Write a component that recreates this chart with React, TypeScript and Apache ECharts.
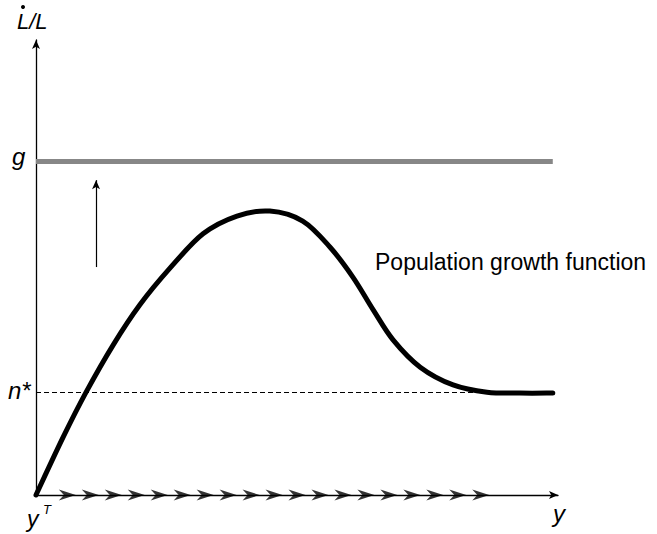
import React, { useEffect, useRef } from "react";
import * as echarts from "echarts";

// Population growth function (income per capita on x, growth rate of population on y)
const curveX = [0, 0.52, 0.96, 1.48, 1.99, 2.57, 3.2, 3.85, 4.48, 5.11, 5.63, 6.07, 6.46, 6.84, 7.36, 7.99, 8.64, 9.27, 9.9];
const curveY = [0, 1.27, 2.26, 3.3, 4.18, 4.99, 5.74, 6.13, 6.24, 6.02, 5.45, 4.79, 4.07, 3.41, 2.81, 2.42, 2.26, 2.24, 2.24];

const gLevel = 7.34;
const nStar = 2.26;
const lineEndX = 9.9;

// arrow showing upward shift
const arrowX = 1.15;
const arrowFrom = 5.01;
const arrowTo = 6.92;

// chevrons along the y axis (direction of movement)
const chevronX = [0.6, 1.04, 1.48, 1.92, 2.36, 2.8, 3.24, 3.68, 4.12, 4.56, 5.0, 5.44, 5.88, 6.32, 6.76, 7.2, 7.64, 8.08, 8.52];

const FONT = "'Liberation Sans', Arial, Helvetica, sans-serif";

export default function App() {
  const ref = useRef<HTMLDivElement>(null);
  useEffect(() => {
    const chart = echarts.init(ref.current!, undefined, { renderer: "svg" });
    const curve = curveX.map((x, i) => [x, curveY[i]]);
    const chev = chevronX.map((x) => [x, 0]);
    const txt = (text: string, x: number, y: number, size: number, italic = true, align = "left") => ({
      type: "text",
      x,
      y,
      style: {
        text,
        font: `${italic ? "italic " : ""}${size}px ${FONT}`,
        fill: "#000",
        textAlign: align,
        textVerticalAlign: "middle",
        verticalAlign: "middle",
      },
      silent: true,
    });
    chart.setOption({
      animation: false,
      backgroundColor: "#fff",
      grid: { left: 36, right: 99, top: 40, bottom: 39, containLabel: false },
      xAxis: {
        type: "value",
        min: 0,
        max: 10,
        axisLine: {
          show: true,
          onZero: false,
          symbol: ["none", "arrow"],
          symbolSize: [6, 9],
          lineStyle: { color: "#000", width: 1.3 },
        },
        axisTick: { show: false },
        axisLabel: { show: false },
        splitLine: { show: false },
      },
      yAxis: {
        type: "value",
        min: 0,
        max: 10,
        axisLine: {
          show: true,
          onZero: false,
          symbol: ["none", "arrow"],
          symbolSize: [6, 9],
          lineStyle: { color: "#000", width: 1.3 },
        },
        axisTick: { show: false },
        axisLabel: { show: false },
        splitLine: { show: false },
      },
      series: [
        {
          type: "line",
          data: [],
          silent: true,
          markLine: {
            silent: true,
            animation: false,
            label: { show: false },
            symbol: ["none", "none"],
            data: [
              [
                { coord: [0, gLevel], lineStyle: { color: "#878787", width: 5, type: "solid" } },
                { coord: [lineEndX, gLevel] },
              ],
              [
                { coord: [0, nStar], lineStyle: { color: "#000", width: 1, type: [5, 3] } },
                { coord: [lineEndX, nStar] },
              ],
              [
                { coord: [arrowX, arrowFrom], symbol: "none", lineStyle: { color: "#000", width: 1.2, type: "solid" } },
                { coord: [arrowX, arrowTo], symbol: "arrow", symbolSize: [6, 9] },
              ],
            ],
          },
        },
        {
          type: "custom",
          data: [0],
          clip: false,
          silent: true,
          z: 5,
          renderItem: (_params: any, api: any) => {
            const p = curve.map((d) => api.coord(d));
            let d = `M${p[0][0]},${p[0][1]}`;
            for (let i = 0; i < p.length - 1; i++) {
              const p0 = p[i - 1] || p[i];
              const p1 = p[i];
              const p2 = p[i + 1];
              const p3 = p[i + 2] || p[i + 1];
              const c1x = p1[0] + (p2[0] - p0[0]) / 6;
              const c1y = p1[1] + (p2[1] - p0[1]) / 6;
              const c2x = p2[0] - (p3[0] - p1[0]) / 6;
              const c2y = p2[1] - (p3[1] - p1[1]) / 6;
              d += ` C${c1x},${c1y} ${c2x},${c2y} ${p2[0]},${p2[1]}`;
            }
            return {
              type: "path",
              shape: { pathData: d },
              style: { fill: "none", stroke: "#000", lineWidth: 5, lineCap: "round", lineJoin: "round" },
            };
          },
        },
        {
          type: "scatter",
          data: chev,
          clip: false,
          symbol: "path://M0,0 L10,5 L0,10 L3,5 Z",
          symbolSize: [17, 11],
          itemStyle: { color: "#000" },
          z: 6,
        },
      ],
      graphic: [
        txt("L/L", 17, 21, 22),
        { type: "circle", shape: { cx: 23, cy: 7, r: 2 }, style: { fill: "#000" }, silent: true },
        txt("g", 12, 156.7, 24),
        txt("n*", 8, 390.7, 24),
        txt("y", 27, 519, 23),
        txt("T", 43, 509, 13),
        txt("y", 553, 513.7, 24),
        txt("Population growth function", 375, 262, 23, false),
      ],
    });
    return () => chart.dispose();
  }, []);
  return <div ref={ref} style={{ position: "absolute", left: 0, top: 0, width: 657, height: 534 }} />;
}
